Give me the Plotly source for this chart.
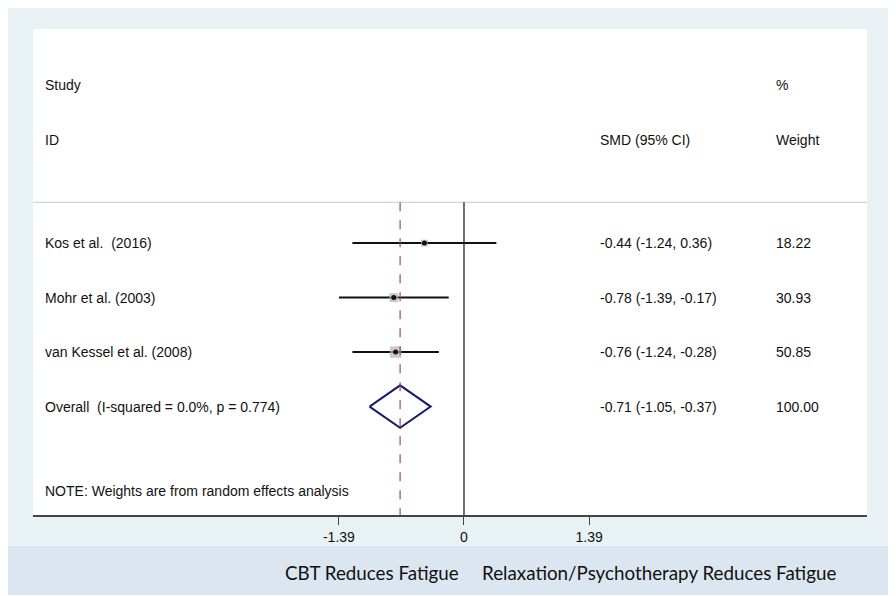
import numpy as np
import plotly.graph_objects as go

# study-level results
studies = ["Kos et al.\u00a0 (2016)", "Mohr et al. (2003)", "van Kessel et al. (2008)"]
smd = [-0.44, -0.78, -0.76]
ci_low = [-1.24, -1.39, -1.24]
ci_high = [0.36, -0.17, -0.28]
weights = [18.22, 30.93, 50.85]

# pooled result
overall_label = "Overall\u00a0 (I-squared = 0.0%, p = 0.774)"
overall_smd = -0.71
overall_low = -1.05
overall_high = -0.37
overall_weight = 100.00

tick_vals = [-1.39, 0, 1.39]
tick_text = ["-1.39", "0", "1.39"]

note = "NOTE: Weights are from random effects analysis"
left_label = "CBT Reduces Fatigue"
right_label = "Relaxation/Psychotherapy Reduces Fatigue"

# row layout (rows counted from the "Study" header line)
study_rows = [2.9, 3.9, 4.9]
overall_row = 5.9
sep_row = 2.15
note_row = 7.45
y_top, y_bottom = -1.03, 7.89
x_lo, x_hi = -4.789, 4.478

FONT = "Liberation Sans, Arial, sans-serif"
TXT = "#111111"

fig = go.Figure()

# confidence intervals with weighted boxes
fig.add_trace(go.Scatter(
    x=smd, y=study_rows, mode="markers",
    marker=dict(symbol="square", color="#b3b3b3",
                size=[1.6 * np.sqrt(w) for w in weights], line=dict(width=0)),
    error_x=dict(type="data", symmetric=False,
                 array=[h - m for h, m in zip(ci_high, smd)],
                 arrayminus=[m - l for m, l in zip(smd, ci_low)],
                 color="#111111", thickness=2, width=0),
    hoverinfo="skip", showlegend=False,
))
fig.add_trace(go.Scatter(
    x=smd, y=study_rows, mode="markers",
    marker=dict(symbol="circle", color="#111111", size=5),
    hoverinfo="skip", showlegend=False,
))

# pooled diamond
h = 0.39
fig.add_trace(go.Scatter(
    x=[overall_low, overall_smd, overall_high, overall_smd, overall_low],
    y=[overall_row, overall_row - h, overall_row, overall_row + h, overall_row],
    mode="lines", line=dict(color="#1b1b6b", width=2),
    hoverinfo="skip", showlegend=False,
))

shapes = [
    # light outer frame
    dict(type="rect", xref="paper", yref="paper", x0=-0.0312, x1=1.0252, y0=-0.0638, y1=1.0453,
         fillcolor="#e8f1f4", line=dict(width=0), layer="below"),
    # white panel
    dict(type="rect", xref="paper", yref="paper", x0=0, x1=1, y0=0, y1=1,
         fillcolor="white", line=dict(width=0), layer="below"),
    # bottom caption band
    dict(type="rect", xref="paper", yref="paper", x0=-0.036, x1=1.0276, y0=-0.1646, y1=-0.0638,
         fillcolor="#dce6f1", line=dict(width=0), layer="below"),
    # header separator
    dict(type="line", xref="paper", yref="y", x0=0, x1=1, y0=sep_row, y1=sep_row,
         line=dict(color="#c8c8c8", width=1.2)),
    # no-effect line
    dict(type="line", xref="x", yref="y", x0=0, x1=0, y0=sep_row, y1=y_bottom,
         line=dict(color="#222222", width=1.3)),
    # pooled estimate line
    dict(type="line", xref="x", yref="y", x0=overall_smd, x1=overall_smd, y0=sep_row, y1=y_bottom,
         line=dict(color="#a8474a", width=1.2, dash="dash")),
]

col_study, col_smd, col_w = 0.0114, 0.6775, 0.8885
ann = []

def txt(x, y, s, **kw):
    d = dict(xref="paper", yref="y", x=x, y=y, text=s, showarrow=False,
             xanchor="left", yanchor="middle", font=dict(family=FONT, size=14, color=TXT))
    d.update(kw)
    ann.append(d)

txt(col_study, 0, "Study")
txt(col_study, 1, "ID")
txt(col_smd, 1, "SMD (95% CI)")
txt(col_w, 0, "%")
txt(col_w, 1, "Weight")

for name, m, l, hi_, w, r in zip(studies, smd, ci_low, ci_high, weights, study_rows):
    txt(col_study, r, name)
    txt(col_smd, r, f"{m:.2f} ({l:.2f}, {hi_:.2f})")
    txt(col_w, r, f"{w:.2f}")

txt(col_study, overall_row, overall_label)
txt(col_smd, overall_row, f"{overall_smd:.2f} ({overall_low:.2f}, {overall_high:.2f})")
txt(col_w, overall_row, f"{overall_weight:.2f}")
txt(col_study, note_row, note)

band_font = dict(family="Lato, Carlito, sans-serif", size=18.8, color="#111111")
ann.append(dict(xref="x", yref="paper", x=0, y=-0.118, text=left_label, showarrow=False,
                xanchor="right", yanchor="middle", xshift=-3, font=band_font))
ann.append(dict(xref="x", yref="paper", x=0, y=-0.118, text=right_label, showarrow=False,
                xanchor="left", yanchor="middle", xshift=16, font=band_font))

fig.update_layout(
    width=896, height=596,
    margin=dict(l=25, r=37, t=21, b=89),
    paper_bgcolor="white", plot_bgcolor="rgba(0,0,0,0)",
    shapes=shapes, annotations=ann,
    xaxis=dict(range=[x_lo, x_hi], showgrid=False, zeroline=False,
               showline=True, linecolor="#444444", linewidth=1.5,
               ticks="outside", ticklen=8, tickcolor="#444444", tickwidth=1.3,
               tickvals=tick_vals, ticktext=tick_text,
               tickfont=dict(family=FONT, size=14, color=TXT)),
    yaxis=dict(range=[y_bottom, y_top], visible=False, showgrid=False, zeroline=False),
)

fig.write_html("out.html")
